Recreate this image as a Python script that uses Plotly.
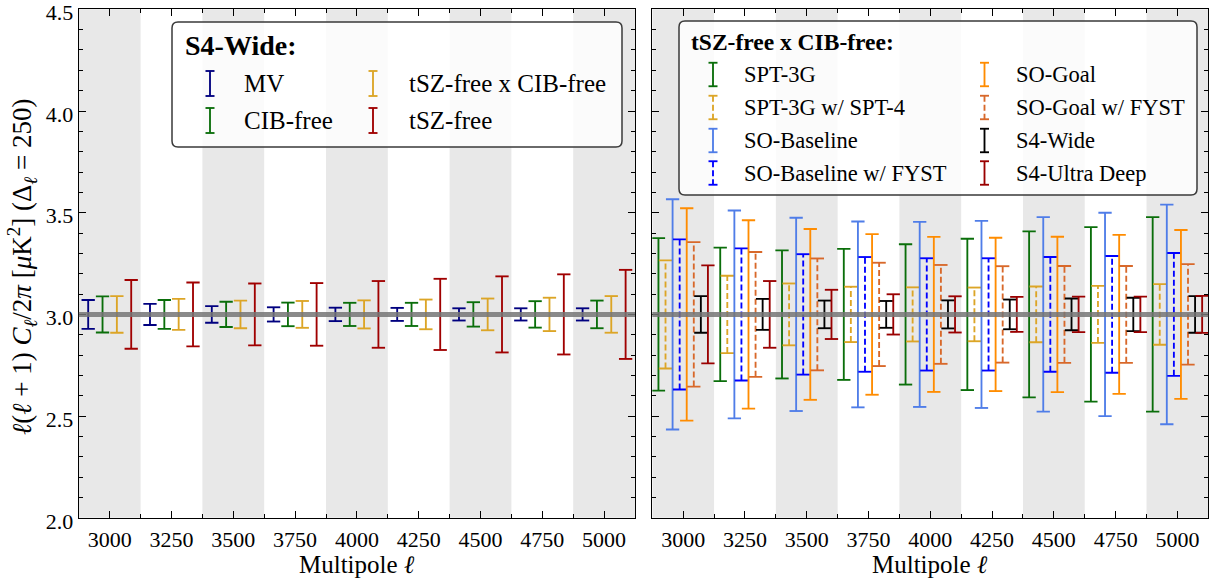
import plotly.graph_objects as go

W, H = 1213, 584

# ---------------- data ----------------
ell = [3000, 3250, 3500, 3750, 4000, 4250, 4500, 4750, 5000]
delta_ell = 250
dl_fiducial = [3.0, 3.0, 3.0, 3.0, 3.0, 3.0, 3.0, 3.0, 3.0]

# Left panel: S4-Wide, 1-sigma errors
mv_err = [0.071, 0.052, 0.041, 0.035, 0.033, 0.032, 0.030, 0.030, 0.030]
cib_free_err = [0.089, 0.071, 0.062, 0.058, 0.057, 0.057, 0.060, 0.065, 0.068]
tsz_cib_free_err = [0.090, 0.076, 0.068, 0.066, 0.069, 0.073, 0.078, 0.082, 0.090]
tsz_free_err = [0.169, 0.157, 0.152, 0.154, 0.164, 0.175, 0.187, 0.197, 0.219]

# Right panel: tSZ-free x CIB-free, 1-sigma errors
spt3g_err = [0.375, 0.328, 0.315, 0.322, 0.345, 0.372, 0.408, 0.429, 0.478]
spt3g_spt4_err = [0.266, 0.190, 0.152, 0.136, 0.133, 0.132, 0.137, 0.140, 0.149]
so_base_err = [0.566, 0.511, 0.475, 0.457, 0.455, 0.460, 0.478, 0.500, 0.540]
so_base_fyst_err = [0.369, 0.325, 0.296, 0.282, 0.276, 0.276, 0.282, 0.287, 0.302]
so_goal_err = [0.522, 0.463, 0.420, 0.395, 0.381, 0.377, 0.382, 0.391, 0.415]
so_goal_fyst_err = [0.355, 0.307, 0.275, 0.254, 0.243, 0.237, 0.238, 0.238, 0.247]
s4_wide_err = tsz_cib_free_err
s4_ud_err = [0.241, 0.164, 0.121, 0.099, 0.089, 0.086, 0.087, 0.087, 0.091]

left_names = ["MV", "CIB-free", "tSZ-free x CIB-free", "tSZ-free"]
left_errs = [mv_err, cib_free_err, tsz_cib_free_err, tsz_free_err]
right_names = ["SPT-3G", "SPT-3G w/ SPT-4", "SO-Baseline", "SO-Baseline w/ FYST",
               "SO-Goal", "SO-Goal w/ FYST", "S4-Wide", "S4-Ultra Deep"]
right_errs = [spt3g_err, spt3g_spt4_err, so_base_err, so_base_fyst_err,
              so_goal_err, so_goal_fyst_err, s4_wide_err, s4_ud_err]

# ---------------- styles ----------------
DASH = "6px,3px"
left_styles = [("#00007f", "solid"), ("#0a6e0a", "solid"),
               ("#dca526", "solid"), ("#a00000", "solid")]
right_styles = [("#0a6e0a", "solid"), ("#dca526", DASH), ("#4f7de8", "solid"),
                ("#0000ff", DASH), ("#ff8c00", "solid"), ("#d8682a", DASH),
                ("#000000", "solid"), ("#9a0000", "solid")]
left_spacing = 58.0
right_spacing = 28.6
LW = 1.85
FONT = "Liberation Serif"


def px(x):
    return x / W


def py(y):
    return 1 - y / H


def bar_trace(xs, centers, errs, color, dash, xa, ya):
    x, y = [], []
    for xi, c, e in zip(xs, centers, errs):
        x += [xi, xi, None]
        y += [c - e, c + e, None]
    return go.Scatter(
        x=x, y=y, mode="lines+markers", xaxis=xa, yaxis=ya,
        line=dict(color=color, width=LW, dash=dash),
        marker=dict(symbol="line-ew", size=9.5, color=color,
                    line=dict(color=color, width=LW)),
        showlegend=False, hoverinfo="skip")


fig = go.Figure()

n_left = len(left_errs)
for i, (err, (col, dash)) in enumerate(zip(left_errs, left_styles)):
    off = (i - (n_left - 1) / 2) * left_spacing
    xs = [l + off for l in ell]
    fig.add_trace(bar_trace(xs, dl_fiducial, err, col, dash, "x", "y"))

n_right = len(right_errs)
for i, (err, (col, dash)) in enumerate(zip(right_errs, right_styles)):
    off = (i - (n_right - 1) / 2) * right_spacing
    xs = [l + off for l in ell]
    fig.add_trace(bar_trace(xs, dl_fiducial, err, col, dash, "x2", "y2"))

shapes = []
# alternating bands
for xr, yr in (("x", "y domain"), ("x2", "y2 domain")):
    for i, l in enumerate(ell):
        if i % 2 == 0:
            shapes.append(dict(type="rect", xref=xr, yref=yr,
                               x0=l - delta_ell / 2, x1=l + delta_ell / 2,
                               y0=0, y1=1, fillcolor="#e8e8e8",
                               line=dict(width=0), layer="below"))
# fiducial line
for xr, yr in (("x domain", "y"), ("x2 domain", "y2")):
    shapes.append(dict(type="line", xref=xr, yref=yr, x0=0, x1=1,
                       y0=dl_fiducial[0], y1=dl_fiducial[0],
                       line=dict(color="rgba(118,118,118,0.85)", width=5),
                       layer="above"))


def rounded_rect(x0, y0, x1, y1, r):
    pts = []
    pts.append(f"M {px(x0 + r)},{py(y0)}")
    pts.append(f"L {px(x1 - r)},{py(y0)}")
    pts.append(f"Q {px(x1)},{py(y0)} {px(x1)},{py(y0 + r)}")
    pts.append(f"L {px(x1)},{py(y1 - r)}")
    pts.append(f"Q {px(x1)},{py(y1)} {px(x1 - r)},{py(y1)}")
    pts.append(f"L {px(x0 + r)},{py(y1)}")
    pts.append(f"Q {px(x0)},{py(y1)} {px(x0)},{py(y1 - r)}")
    pts.append(f"L {px(x0)},{py(y0 + r)}")
    pts.append(f"Q {px(x0)},{py(y0)} {px(x0 + r)},{py(y0)}")
    pts.append("Z")
    return " ".join(pts)


annotations = []


def legend_box(x0, y0, x1, y1, title, tsize, names, styles, ncol_rows,
               col_glyph, col_text, rows, fsize, gh):
    shapes.append(dict(type="path", xref="paper", yref="paper",
                       path=rounded_rect(x0, y0, x1, y1, 6),
                       fillcolor="rgba(255,255,255,0.82)",
                       line=dict(color="#3a3a3a", width=1.5), layer="above"))
    annotations.append(dict(xref="paper", yref="paper", x=px(title[1]), y=py(title[2]),
                            text="<b>" + title[0] + "</b>", showarrow=False,
                            xanchor="left", yanchor="middle",
                            font=dict(family=FONT, size=tsize, color="black")))
    for i, (name, (col, dash)) in enumerate(zip(names, styles)):
        c, r = divmod(i, ncol_rows)
        gx, tx, yc = col_glyph[c], col_text[c], rows[r]
        shapes.append(dict(type="line", xref="paper", yref="paper",
                           x0=px(gx), x1=px(gx), y0=py(yc - gh / 2), y1=py(yc + gh / 2),
                           line=dict(color=col, width=LW, dash=dash), layer="above"))
        for yy in (yc - gh / 2, yc + gh / 2):
            shapes.append(dict(type="line", xref="paper", yref="paper",
                               x0=px(gx - 4.5), x1=px(gx + 4.5), y0=py(yy), y1=py(yy),
                               line=dict(color=col, width=LW), layer="above"))
        annotations.append(dict(xref="paper", yref="paper", x=px(tx), y=py(yc),
                                text=name, showarrow=False, xanchor="left",
                                yanchor="middle",
                                font=dict(family=FONT, size=fsize, color="black")))


legend_box(172, 22, 622, 147, ("S4-Wide:", 183, 46), 28, left_names, left_styles, 2,
           [210, 373], [242, 407], [83.5, 120.5], 25, 25)
legend_box(679, 21, 1197, 195, ("tSZ-free x CIB-free:", 689, 42), 23.5, right_names,
           right_styles, 4, [713, 984.5], [742, 1014], [74.5, 107.5, 140.5, 173], 22.5, 23.5)

xdom1 = [78.8 / W, 635 / W]
xdom2 = [652.3 / W, 1208.3 / W]
ydom = [1 - 517.8 / H, 1 - 9.3 / H]

# axis titles
for dom in (xdom1, xdom2):
    annotations.append(dict(xref="paper", yref="paper", x=(dom[0] + dom[1]) / 2, y=py(564),
                            text="Multipole <i>ℓ</i>", showarrow=False,
                            xanchor="center", yanchor="middle",
                            font=dict(family=FONT, size=25, color="black")))
annotations.append(dict(xref="paper", yref="paper", x=px(22), y=py(267),
                        text="<i>ℓ</i>(<i>ℓ</i> + 1) <i>C</i><sub><i>ℓ</i></sub>/2<i>π</i> "
                             "[<i>μ</i>K<sup>2</sup>] (Δ<sub><i>ℓ</i></sub> = 250)",
                        showarrow=False, textangle=-90, xanchor="center", yanchor="middle",
                        font=dict(family=FONT, size=27, color="black")))

xcommon = dict(range=[ell[0] - delta_ell / 2, ell[-1] + delta_ell / 2],
               tickvals=ell, ticktext=[str(l) for l in ell],
               ticks="inside", ticklen=7, tickwidth=1, tickcolor="black",
               showline=True, linecolor="black", linewidth=1.2, mirror="ticks",
               showgrid=False, zeroline=False, ticklabeloverflow="allow",
               automargin=False, ticklabelstandoff=2,
               minor=dict(tickvals=[l + delta_ell / 2 for l in ell[:-1]], ticks="inside",
                          ticklen=4, tickwidth=1, tickcolor="black", showgrid=False),
               tickfont=dict(family=FONT, size=22, color="black"))
ycommon = dict(range=[2.0, 4.5], dtick=0.5, tick0=2.0, tickformat=".1f",
               ticks="inside", ticklen=7, tickwidth=1, tickcolor="black",
               showline=True, linecolor="black", linewidth=1.2, mirror="ticks",
               showgrid=False, zeroline=False, ticklabeloverflow="allow",
               automargin=False, ticklabelshift=3,
               minor=dict(dtick=0.1, ticks="inside", ticklen=4, tickwidth=1,
                          tickcolor="black", showgrid=False),
               tickfont=dict(family=FONT, size=22, color="black"), domain=ydom)

fig.update_layout(
    width=W, height=H, autosize=False, margin=dict(l=0, r=0, t=0, b=0, pad=0),
    paper_bgcolor="white", plot_bgcolor="white",
    xaxis=dict(domain=xdom1, anchor="y", **xcommon),
    xaxis2=dict(domain=xdom2, anchor="y2", **xcommon),
    yaxis=dict(anchor="x", **ycommon),
    yaxis2=dict(anchor="x2", matches="y", showticklabels=False, **ycommon),
    shapes=shapes, annotations=annotations, showlegend=False,
)

fig.write_html("out.html")
